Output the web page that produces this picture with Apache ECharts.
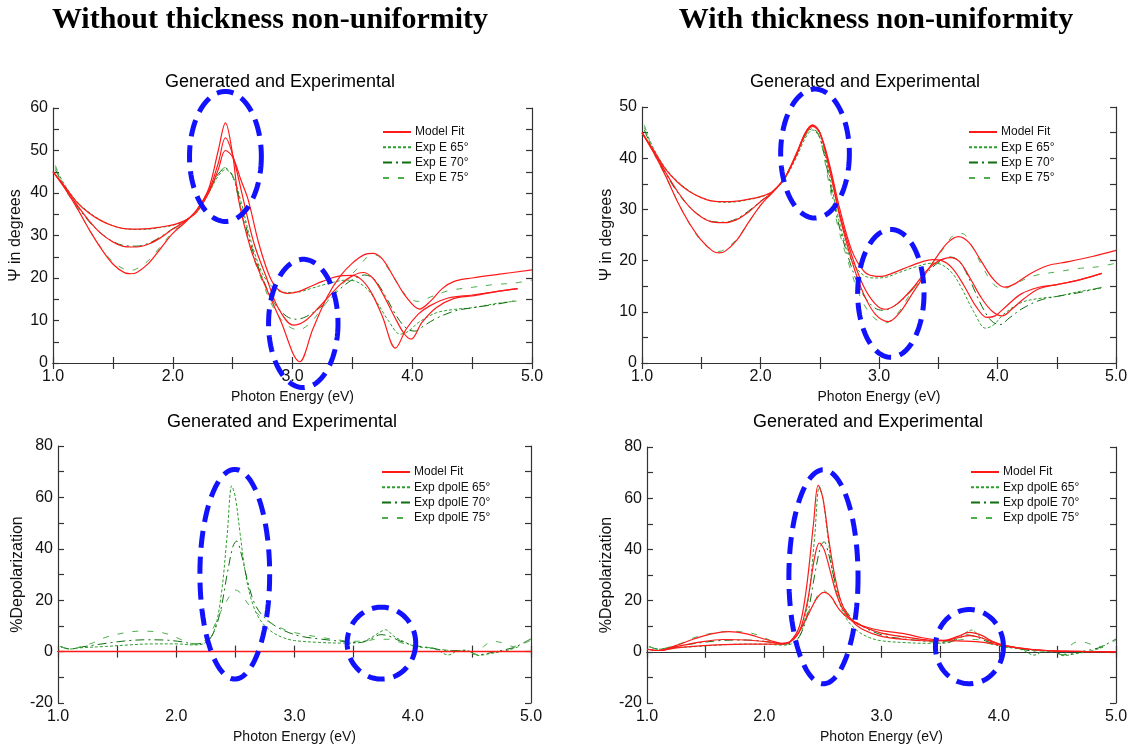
<!DOCTYPE html>
<html>
<head>
<meta charset="utf-8">
<script src="https://cdn.jsdelivr.net/npm/echarts@6/dist/echarts.min.js"></script>
<style>
html, body { margin: 0; padding: 0; background: #fff; }
#chart { width: 1138px; height: 753px; }
</style>
</head>
<body>
<div id="chart"></div>
<script>
// Psi, experiment (same data in both top panels)
const psiExp65 = [[1.02,46],[1.1,41.8],[1.2,38],[1.3,35.5],[1.4,33.6],[1.5,32.3],[1.6,31.6],[1.7,31.4],[1.8,31.5],[1.9,31.9],[2.0,32.4],[2.1,33.4],[2.2,35.8],[2.3,40],[2.38,44],[2.44,45.5],[2.5,44],[2.57,38],[2.65,29],[2.75,21],[2.85,17.5],[2.95,16.6],[3.05,16.7],[3.15,17.5],[3.3,18.7],[3.45,19.5],[3.53,19.2],[3.62,17.5],[3.7,14.5],[3.8,10],[3.9,6.8],[3.97,7.5],[4.05,9.5],[4.2,11.8],[4.35,12.6],[4.5,13],[4.7,14],[4.88,14.6]]
const psiExp70 = [[1.02,45.5],[1.1,41.2],[1.2,37],[1.3,33.3],[1.4,30.5],[1.5,28.6],[1.6,27.6],[1.7,27.5],[1.8,28.2],[1.9,29.7],[2.0,31.6],[2.1,33.3],[2.2,36],[2.3,40.5],[2.38,44.5],[2.44,45.8],[2.5,44],[2.57,37],[2.65,28],[2.75,20],[2.85,14],[2.95,11],[3.03,10.3],[3.12,11],[3.25,13.5],[3.4,17.5],[3.5,19.6],[3.6,20.7],[3.68,19.8],[3.77,16],[3.87,11],[3.95,8.2],[4.02,7.5],[4.1,8.8],[4.2,10.5],[4.35,12.2],[4.5,13],[4.7,13.8],[4.88,14.8]]
const psiExp75 = [[1.02,46.5],[1.1,41],[1.2,36.5],[1.3,31.5],[1.4,27.2],[1.5,23.8],[1.6,22],[1.65,21.8],[1.7,22.2],[1.8,24.2],[1.9,27.5],[2.0,30.8],[2.1,33.2],[2.2,36],[2.3,40.5],[2.38,44.5],[2.44,46],[2.5,44],[2.57,36],[2.65,27],[2.75,19],[2.85,12.5],[2.95,9],[3.05,7.8],[3.15,9.5],[3.25,13],[3.35,16.5],[3.45,19.5],[3.55,22.5],[3.63,25],[3.7,25.3],[3.78,23],[3.88,18.5],[3.97,15.3],[4.05,14.5],[4.15,15.5],[4.3,17],[4.5,17.8],[4.7,18.5],[4.85,18.8],[5.0,19.5]]

// Psi, model fit without thickness non-uniformity
const psiFitA65 = [[1.0,45],[1.1,41.5],[1.2,37.8],[1.3,35.3],[1.4,33.5],[1.5,32.3],[1.6,31.6],[1.7,31.5],[1.8,31.6],[1.9,32],[2.0,32.5],[2.1,33.5],[2.2,35.5],[2.3,40],[2.38,45.5],[2.44,50],[2.5,48.5],[2.57,43],[2.63,38.4],[2.72,28],[2.81,20.3],[2.88,17.3],[2.96,16.4],[3.05,16.8],[3.15,18],[3.25,19.2],[3.4,20.5],[3.5,20.6],[3.58,19.5],[3.66,16.5],[3.75,11],[3.86,3.5],[3.95,8],[4.05,11.5],[4.15,13.5],[4.3,15.3],[4.5,16],[4.7,16.8],[4.88,17.5]]
const psiFitA70 = [[1.0,45],[1.1,41.2],[1.2,37.2],[1.3,33.5],[1.4,30.5],[1.5,28.5],[1.6,27.4],[1.7,27.3],[1.8,28],[1.9,29.5],[2.0,31.5],[2.1,33.3],[2.2,36],[2.3,40.5],[2.38,47],[2.44,53],[2.5,49],[2.59,38.4],[2.68,28],[2.78,20.3],[2.88,13],[3.01,8.9],[3.1,9.8],[3.2,12.5],[3.3,15.5],[3.4,18.5],[3.5,20.5],[3.59,21.3],[3.67,20],[3.75,16.5],[3.85,11],[3.93,7],[3.99,5.6],[4.08,9.5],[4.2,13],[4.35,15.2],[4.5,15.8],[4.7,16.8],[4.88,17.5]]
const psiFitA75 = [[1.0,45],[1.1,41],[1.2,36.5],[1.3,31.5],[1.4,27],[1.5,23.3],[1.6,21.2],[1.65,21],[1.7,21.3],[1.8,23.5],[1.9,27],[2.0,30.5],[2.1,33],[2.2,36],[2.3,41],[2.38,50],[2.44,56.5],[2.5,49],[2.55,38.4],[2.65,27],[2.74,20.3],[2.9,10],[3.06,0.3],[3.17,8],[3.29,15.6],[3.4,20.5],[3.5,23.5],[3.6,25.5],[3.67,25.8],[3.75,24.5],[3.85,20],[3.95,15.5],[4.06,12.7],[4.15,14.5],[4.25,17.5],[4.35,19.2],[4.5,20],[4.73,20.9],[5.0,21.9]]

// Psi, model fit with thickness non-uniformity
const psiFitB65 = [[1.0,45],[1.1,41.5],[1.2,37.8],[1.3,35.3],[1.4,33.5],[1.5,32.3],[1.6,31.6],[1.7,31.5],[1.8,31.6],[1.9,32],[2.0,32.5],[2.1,33.5],[2.2,36],[2.3,40.5],[2.38,44.8],[2.44,46.2],[2.5,45],[2.58,39],[2.67,30],[2.77,22],[2.87,18],[2.95,17],[3.02,16.9],[3.12,17.6],[3.25,18.8],[3.38,19.9],[3.45,20.2],[3.53,20],[3.62,18.5],[3.72,15],[3.82,11],[3.91,8.9],[3.98,9.2],[4.07,11],[4.2,13.5],[4.35,14.8],[4.5,15.3],[4.7,16.3],[4.88,17.5]]
const psiFitB70 = [[1.0,45],[1.1,41.2],[1.2,37.2],[1.3,33.5],[1.4,30.5],[1.5,28.5],[1.6,27.5],[1.7,27.4],[1.8,28],[1.9,29.5],[2.0,31.5],[2.1,33.3],[2.2,36],[2.3,40.8],[2.38,45],[2.44,46.4],[2.5,45],[2.58,38.5],[2.67,29],[2.77,21],[2.87,15],[2.97,11.5],[3.05,10.5],[3.15,11.5],[3.28,14.5],[3.4,18],[3.5,19.9],[3.6,20.6],[3.68,19.8],[3.77,16.5],[3.87,12.5],[3.96,10],[4.04,9.2],[4.12,10.5],[4.22,12.5],[4.35,14.5],[4.5,15.3],[4.7,16.3],[4.88,17.5]]
const psiFitB75 = [[1.0,45],[1.1,41],[1.2,36.5],[1.3,31.5],[1.4,27.3],[1.5,24],[1.6,21.8],[1.65,21.5],[1.7,21.8],[1.8,24],[1.9,27.5],[2.0,30.8],[2.1,33.3],[2.2,36],[2.3,40.5],[2.38,45],[2.44,46.5],[2.5,45],[2.58,38],[2.67,28.5],[2.77,20],[2.87,13.5],[2.97,9.5],[3.08,8.1],[3.18,10],[3.28,13.5],[3.38,17],[3.48,20.5],[3.58,23.5],[3.67,24.7],[3.76,23.5],[3.86,20],[3.96,16.5],[4.06,14.8],[4.15,15.5],[4.28,17.5],[4.42,19],[4.6,19.8],[4.8,20.8],[5.0,22]]

// %Depolarization, experiment (same data in both bottom panels)
const depExp65 = [[1.02,2],[1.1,1],[1.2,1.5],[1.4,2],[1.6,2.6],[1.8,3],[2.0,3],[2.15,2.6],[2.25,3.5],[2.32,8],[2.38,22],[2.43,45],[2.47,64.5],[2.5,60],[2.54,46],[2.58,32],[2.63,21],[2.7,13],[2.8,8],[2.9,5.5],[3.0,4.3],[3.2,3.6],[3.4,3.3],[3.55,3.5],[3.65,5.5],[3.72,7.5],[3.77,8.5],[3.84,6],[3.92,4],[4.02,2],[4.12,1.5],[4.2,0.8],[4.3,-1.3],[4.38,0.3],[4.45,0.5],[4.55,-1.5],[4.65,-0.8],[4.8,0.5],[4.9,2]]
const depExp70 = [[1.02,2],[1.1,1],[1.2,1.8],[1.3,2.5],[1.45,3.5],[1.6,4.3],[1.75,4.6],[1.9,4.5],[2.05,3.8],[2.15,3],[2.22,3.2],[2.3,6],[2.37,15],[2.43,30],[2.48,41],[2.51,43],[2.55,38],[2.6,28],[2.66,19],[2.73,14],[2.82,10.5],[2.92,8],[3.05,6],[3.2,5],[3.4,4],[3.55,3.5],[3.65,5],[3.73,6.6],[3.8,6],[3.9,4],[4.0,2.5],[4.15,1.5],[4.3,0.3],[4.45,0.5],[4.55,-1.2],[4.7,0],[4.85,1.5],[4.9,2.5],[5.0,5]]
const depExp75 = [[1.02,2],[1.1,1],[1.2,2],[1.3,3.5],[1.4,5.5],[1.55,7.2],[1.7,8],[1.85,7.6],[1.95,6.5],[2.05,4.5],[2.15,3],[2.22,3.5],[2.3,8],[2.37,15],[2.43,20],[2.5,24],[2.55,22.5],[2.6,19],[2.67,15.5],[2.75,12.5],[2.85,10],[2.95,8],[3.1,6.5],[3.3,5],[3.5,4],[3.6,4.2],[3.7,4.8],[3.8,4.8],[3.9,3.5],[4.0,2.2],[4.15,1.5],[4.3,0.5],[4.45,0],[4.55,-1.2],[4.6,2],[4.68,4],[4.75,3.5],[4.85,2],[5.0,4.5]]

// %Depolarization, model fit
const depFitA = [[1.0,0],[5.0,0]]
const depFitB65 = [[1.0,1],[1.1,0.5],[1.25,1.5],[1.45,2.3],[1.65,2.8],[1.85,3],[2.05,3],[2.15,3],[2.22,4],[2.3,10],[2.36,25],[2.42,50],[2.46,65],[2.5,60],[2.55,44],[2.6,30],[2.66,19],[2.75,12],[2.85,8.5],[3.0,6],[3.2,4.8],[3.4,4.3],[3.55,4.5],[3.65,6],[3.75,7.6],[3.85,6.5],[3.95,4],[4.05,2.5],[4.2,1.3],[4.4,0.5],[4.6,0.2],[4.8,0.1],[5.0,0]]
const depFitB70 = [[1.0,1],[1.1,0.5],[1.25,2],[1.45,3.8],[1.65,4.8],[1.85,4.6],[2.05,3.8],[2.15,3.2],[2.22,3.8],[2.3,8],[2.37,20],[2.43,37],[2.47,42.5],[2.51,40],[2.56,32],[2.62,22],[2.68,16],[2.76,12],[2.86,9.5],[3.0,7.3],[3.2,5.8],[3.4,4.6],[3.55,4.5],[3.65,5.5],[3.75,6.3],[3.85,5.5],[3.95,3.8],[4.05,2.4],[4.25,1],[4.5,0.3],[4.75,0.1],[5.0,0]]
const depFitB75 = [[1.0,1],[1.1,0.5],[1.25,2.5],[1.4,5],[1.55,7],[1.7,7.9],[1.85,7],[2.0,5],[2.1,3.8],[2.15,3.3],[2.22,4],[2.3,8],[2.38,15],[2.45,21],[2.51,23.2],[2.57,21.5],[2.64,16.5],[2.72,13],[2.8,10.8],[2.9,9.3],[3.0,8.3],[3.2,7],[3.35,5.5],[3.5,4.5],[3.6,4.3],[3.7,4.2],[3.8,4],[3.9,3.5],[4.05,2.3],[4.25,1.1],[4.5,0.3],[4.75,0.1],[5.0,0]]

const xTicks = [1, 5, 1]
const psiTicksLeft = [0, 60, 10]
const psiTicksRight = [0, 50, 10]
const depTicks = [-20, 80, 20]

// highlighted regions: [panel, centre eV, centre value, radius eV, radius value]
const ellipses = [
  [0, 2.44, 48.6, 0.30, 15.3], [0, 3.09, 9.3, 0.29, 15.1],
  [1, 2.46, 40.9, 0.29, 12.6], [1, 3.10, 13.6, 0.28, 12.5],
  [2, 2.495, 30.1, 0.295, 40.8], [2, 3.735, 3.3, 0.29, 14],
  [3, 2.505, 29.3, 0.295, 41.8], [3, 3.75, 2.0, 0.29, 14.5],
]

const FONT = "'Liberation Sans', Arial, sans-serif"
const RED = '#ff1a1a'
const G65 = '#2e9e2e', G70 = '#0f6e0f', G75 = '#4caf4c'
const D65 = [3, 2], D70 = [9, 4, 2, 4], D75 = [6, 9]

const grids = [
  { left: 53, top: 108, width: 479, height: 255 },
  { left: 642, top: 107, width: 474, height: 256 },
  { left: 58, top: 446, width: 473, height: 257 },
  { left: 647, top: 447, width: 469, height: 256 },
]
const yRanges = [psiTicksLeft, psiTicksRight, depTicks, depTicks]
const yNames = ['Ψ in degrees', 'Ψ in degrees', '%Depolarization', '%Depolarization']
const yGaps = [29, 27, 32, 31]

const axisCommon = {
  axisLine: { show: true, lineStyle: { color: '#333', width: 1.2 } },
  axisTick: { show: true, inside: true, length: 6, lineStyle: { color: '#333', width: 1.2 } },
  minorTick: { show: true, splitNumber: 2, length: 6, lineStyle: { color: '#333', width: 1.2 } },
  splitLine: { show: false },
}

const xAxes = [], yAxes = []
grids.forEach((g, i) => {
  const xa = { type: 'value', gridIndex: i, min: xTicks[0], max: xTicks[1], interval: xTicks[2], ...axisCommon }
  xAxes.push({ ...xa, position: 'bottom', name: 'Photon Energy (eV)', nameLocation: 'middle', nameGap: 27,
    nameTextStyle: { fontFamily: FONT, fontSize: 14, color: '#111' },
    axisLabel: { fontFamily: FONT, fontSize: 16, color: '#111', margin: 6, formatter: v => v.toFixed(1) } })
  xAxes.push({ ...xa, position: 'top', axisLabel: { show: false } })
  const r = yRanges[i]
  const ya = { type: 'value', gridIndex: i, min: r[0], max: r[1], interval: r[2], ...axisCommon }
  yAxes.push({ ...ya, position: 'left', name: yNames[i], nameLocation: 'middle', nameGap: yGaps[i],
    nameTextStyle: { fontFamily: FONT, fontSize: 16, color: '#111' },
    axisLabel: { fontFamily: FONT, fontSize: 16, color: '#111', margin: 5 } })
  yAxes.push({ ...ya, position: 'right', axisLabel: { show: false } })
})

function line(name, data, gi, color, dash, width) {
  return {
    type: 'line', name, data, xAxisIndex: gi * 2, yAxisIndex: gi * 2,
    symbol: 'none', smooth: 0.35, clip: true,
    lineStyle: { color, width: width || 1, type: dash || 'solid' },
    itemStyle: { color },
  }
}

const series = []
// top left: without non-uniformity
series.push(line('Exp E 65°', psiExp65, 0, G65, D65))
series.push(line('Exp E 70°', psiExp70, 0, G70, D70))
series.push(line('Exp E 75°', psiExp75, 0, G75, D75))
series.push(line('Model Fit', psiFitA65, 0, RED, null, 1.2))
series.push(line('Model Fit', psiFitA70, 0, RED, null, 1.2))
series.push(line('Model Fit', psiFitA75, 0, RED, null, 1.2))
// top right: with non-uniformity
series.push(line('Exp E 65°', psiExp65, 1, G65, D65))
series.push(line('Exp E 70°', psiExp70, 1, G70, D70))
series.push(line('Exp E 75°', psiExp75, 1, G75, D75))
series.push(line('Model Fit', psiFitB65, 1, RED, null, 1.2))
series.push(line('Model Fit', psiFitB70, 1, RED, null, 1.2))
series.push(line('Model Fit', psiFitB75, 1, RED, null, 1.2))
// bottom left
series.push(line('Exp dpolE 65°', depExp65, 2, G65, D65))
series.push(line('Exp dpolE 70°', depExp70, 2, G70, D70))
series.push(line('Exp dpolE 75°', depExp75, 2, G75, D75))
series.push(line('Model Fit', depFitA, 2, RED, null, 1.5))
// bottom right
series.push(line('Exp dpolE 65°', depExp65, 3, G65, D65))
series.push(line('Exp dpolE 70°', depExp70, 3, G70, D70))
series.push(line('Exp dpolE 75°', depExp75, 3, G75, D75))
series.push(line('Model Fit', depFitB65, 3, RED, null, 1.2))
series.push(line('Model Fit', depFitB70, 3, RED, null, 1.2))
series.push(line('Model Fit', depFitB75, 3, RED, null, 1.2))

const psiLegend = ['Model Fit', 'Exp E 65°', 'Exp E 70°', 'Exp E 75°']
const depLegend = ['Model Fit', 'Exp dpolE 65°', 'Exp dpolE 70°', 'Exp dpolE 75°']
const legendPos = [[382, 124, psiLegend], [968, 124, psiLegend], [381, 464, depLegend], [970, 464, depLegend]]
const legends = legendPos.map(p => ({
  orient: 'vertical', left: p[0], top: p[1] + 2, data: p[2], padding: 0,
  itemWidth: 28, itemHeight: 12, itemGap: 3.3, selectedMode: false,
  itemStyle: { opacity: 0 },
  textStyle: { fontFamily: FONT, fontSize: 12, color: '#111', lineHeight: 12, padding: [0, 0, 0, -1] },
}))

const texts = [
  ['Without thickness non-uniformity', 270, 20, 30, 'bold', "'Liberation Serif', 'Times New Roman', serif"],
  ['With thickness non-uniformity', 876, 20, 30, 'bold', "'Liberation Serif', 'Times New Roman', serif"],
  ['Generated and Experimental', 280, 82, 18, 'normal', FONT],
  ['Generated and Experimental', 865, 82, 18, 'normal', FONT],
  ['Generated and Experimental', 282, 422, 18, 'normal', FONT],
  ['Generated and Experimental', 868, 422, 18, 'normal', FONT],
].map(t => ({
  type: 'text', x: t[1], y: t[2], z: 10,
  style: { text: t[0], fontSize: t[3], fontWeight: t[4], fontFamily: t[5], fill: '#000', textAlign: 'center', textVerticalAlign: 'middle' },
}))

const chart = echarts.init(document.getElementById('chart'), null, { renderer: 'canvas' })
chart.setOption({
  animation: false,
  backgroundColor: '#fff',
  grid: grids,
  xAxis: xAxes,
  yAxis: yAxes,
  legend: legends,
  series,
  graphic: texts,
})

// dashed blue ellipses, placed through the axes of each panel
const rings = ellipses.map(e => {
  const c = chart.convertToPixel({ gridIndex: e[0] }, [e[1], e[2]])
  const ex = chart.convertToPixel({ gridIndex: e[0] }, [e[1] + e[3], e[2] + e[4]])
  const rx = Math.abs(ex[0] - c[0]), ry = Math.abs(ex[1] - c[1])
  const pts = []
  for (let k = 0; k < 90; k++) {
    const a = k / 90 * Math.PI * 2
    pts.push([c[0] + rx * Math.cos(a), c[1] + ry * Math.sin(a)])
  }
  return {
    type: 'polygon', z: 20, shape: { points: pts },
    style: { fill: null, stroke: '#1212ff', lineWidth: 5, lineDash: [17, 9] },
  }
})
chart.setOption({ graphic: texts.concat(rings) })
</script>
</body>
</html>
